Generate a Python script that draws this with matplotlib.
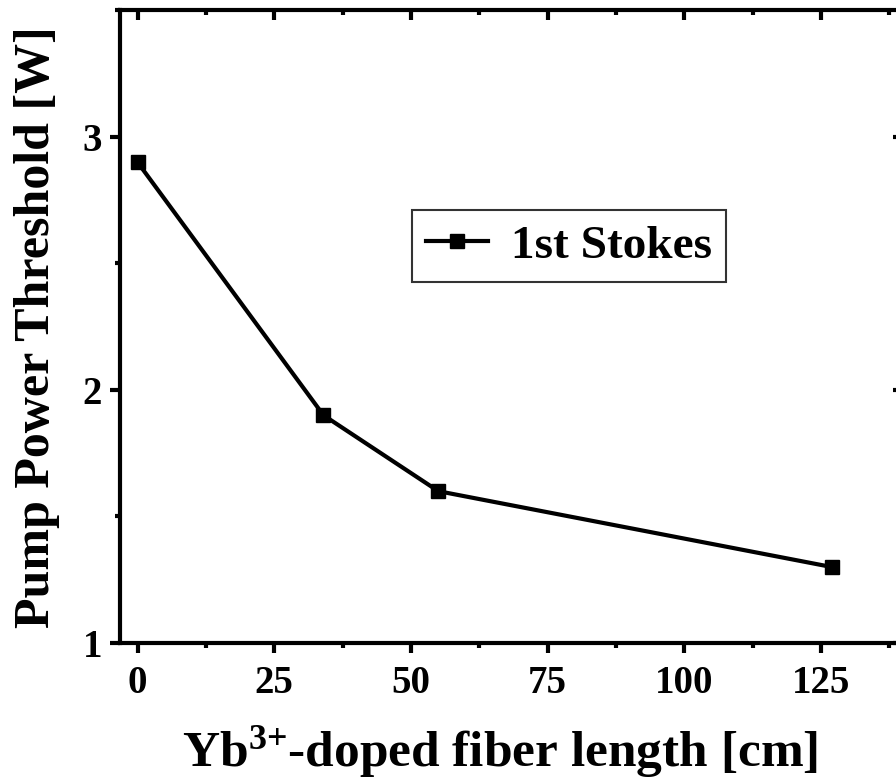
import matplotlib
matplotlib.use("Agg")
import matplotlib.pyplot as plt
from matplotlib.ticker import MultipleLocator

# fibre length [cm] and pump threshold [W]
length_cm = [0, 34, 55, 127]
threshold_w = [2.9, 1.9, 1.6, 1.3]
series_name = "1st Stokes"

plt.rcParams['font.family'] = ['Liberation Serif', 'DejaVu Serif']
plt.rcParams['font.weight'] = 'bold'
plt.rcParams['axes.labelweight'] = 'bold'
plt.rcParams['mathtext.fontset'] = 'custom'
plt.rcParams['mathtext.rm'] = 'Liberation Serif:bold'
plt.rcParams['mathtext.bf'] = 'Liberation Serif:bold'
plt.rcParams['mathtext.default'] = 'bf'

fig = plt.figure(figsize=(8.96, 7.79), dpi=100)
ax = fig.add_axes([0.134, 0.1746, 0.874, 0.812])

ax.plot(length_cm, threshold_w, color='black', lw=3, marker='s', ms=10,
        label=series_name)

ax.set_xlim(-3.2, 140)
ax.set_ylim(1, 3.5)
ax.xaxis.set_major_locator(MultipleLocator(25))
ax.xaxis.set_minor_locator(MultipleLocator(12.5))
ax.yaxis.set_major_locator(MultipleLocator(1))
ax.yaxis.set_minor_locator(MultipleLocator(0.5))

for s in ax.spines.values():
    s.set_linewidth(3)
ax.tick_params(which='major', direction='out', length=7, width=3,
               labelsize=28, pad=6)
ax.tick_params(axis='x', which='major', pad=9)
ax.tick_params(which='minor', direction='out', length=3.5, width=3)

# mirrored ticks pointing inward on top and right
top = ax.secondary_xaxis('top')
top.xaxis.set_major_locator(MultipleLocator(25))
top.xaxis.set_minor_locator(MultipleLocator(12.5))
top.tick_params(which='major', direction='in', length=7, width=3, labeltop=False)
top.tick_params(which='minor', direction='in', length=3.5, width=3)
right = ax.secondary_yaxis('right')
right.yaxis.set_major_locator(MultipleLocator(1))
right.yaxis.set_minor_locator(MultipleLocator(0.5))
right.tick_params(which='major', direction='in', length=7, width=3, labelright=False)
right.tick_params(which='minor', direction='in', length=3.5, width=3)

ax.set_xlabel("Yb$^{3{+}}$-doped fiber length [cm]", fontsize=37, labelpad=16)
ax.xaxis.label.set_x(0.485)
ax.set_ylabel("Pump Power Threshold [W]", fontsize=36, labelpad=16)

leg = ax.legend(loc='upper left', bbox_to_anchor=(0.373, 0.684), fontsize=34,
                fancybox=False, frameon=True, handlelength=1.3,
                borderpad=0.3, handletextpad=0.5, borderaxespad=0)
leg.get_frame().set_edgecolor('black')
leg.get_frame().set_linewidth(1.5)

fig.savefig("out.png", dpi=100)
